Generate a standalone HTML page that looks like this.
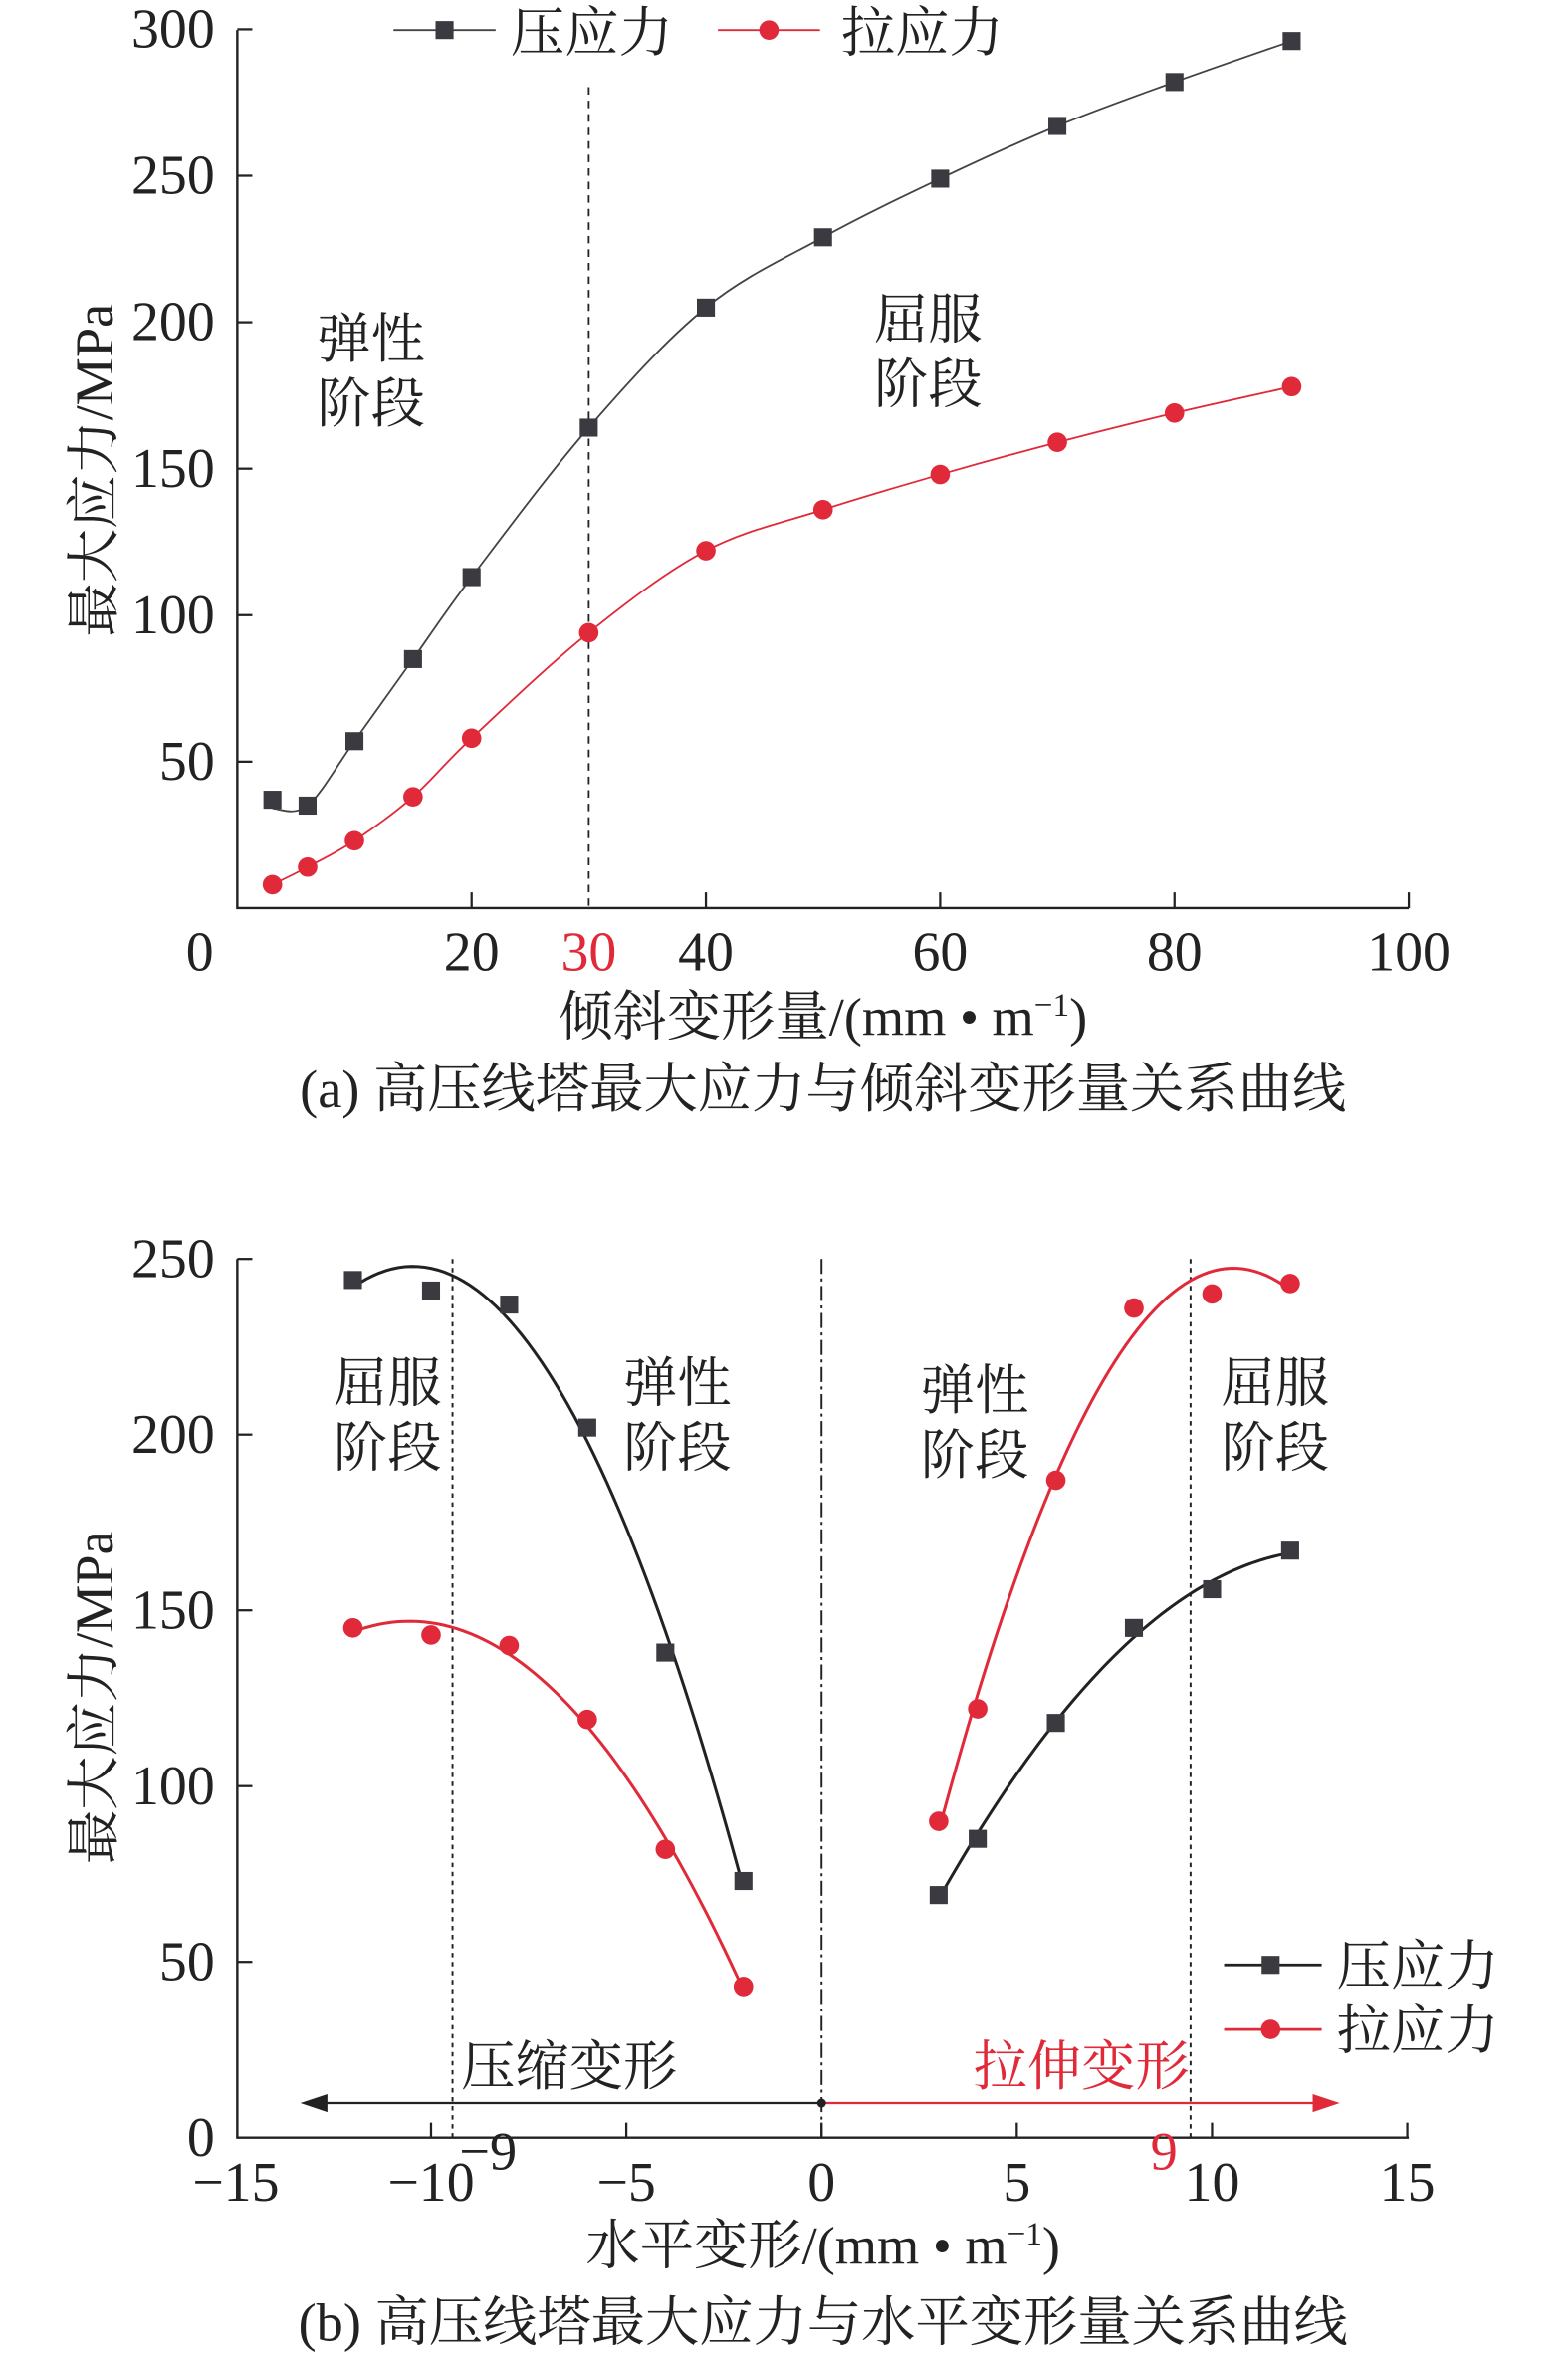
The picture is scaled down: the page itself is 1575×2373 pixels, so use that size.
<!DOCTYPE html>
<html><head><meta charset="utf-8">
<style>
html,body{margin:0;padding:0;background:#fff;}
svg{display:block;}
text{font-family:"Liberation Serif","Noto Serif CJK SC",serif;fill:#222;}
</style></head>
<body>
<svg id="root" width="1575" height="2373" viewBox="0 0 1044 1573" preserveAspectRatio="none" xmlns="http://www.w3.org/2000/svg">
<g id="chartA"></g>
<g id="chartB"></g>
</svg>
<script>
// ---- Chart (a) data ----
const aX = [3, 6, 10, 15, 20, 30, 40, 50, 60, 70, 80, 90];
const aCompress = [37, 35, 57, 85, 113, 164, 205, 229, 249, 267, 282, 296];
const aTension = [8, 14, 23, 38, 58, 94, 122, 136, 148, 159, 169, 178];
const aXTicks = [0, 20, 30, 40, 60, 80, 100];
const aYTicks = [50, 100, 150, 200, 250, 300];
// ---- Chart (b) data ----
const bXLeft = [-12, -10, -8, -6, -4, -2];
const bXRight = [3, 4, 6, 8, 10, 12];
const bCompressLeft = [244, 241, 237, 202, 138, 73];
const bCompressRight = [69, 85, 118, 145, 156, 167];
const bTensionLeft = [145, 143, 140, 119, 82, 43];
const bTensionRight = [90, 122, 187, 236, 240, 243];
const bXTicks = [-15, -10, -5, 0, 5, 10, 15];
const bYTicks = [0, 50, 100, 150, 200, 250];

const NS = "http://www.w3.org/2000/svg";
const RED = "#e02a3a", BLK = "#222", MK = "#3a3a40";
const FS = 36;
function mk(parent, tag, attrs, txt){
  const e = document.createElementNS(NS, tag);
  for (const k in attrs) e.setAttribute(k, attrs[k]);
  if (txt !== undefined) e.textContent = txt;
  parent.appendChild(e);
  return e;
}
function catmull(pts){
  let d = `M${pts[0][0]},${pts[0][1]}`;
  for (let i=0;i<pts.length-1;i++){
    const p0=pts[i-1]||pts[i], p1=pts[i], p2=pts[i+1], p3=pts[i+2]||p2;
    const c1=[p1[0]+(p2[0]-p0[0])/6, p1[1]+(p2[1]-p0[1])/6];
    const c2=[p2[0]-(p3[0]-p1[0])/6, p2[1]-(p3[1]-p1[1])/6];
    d += ` C${c1[0]},${c1[1]} ${c2[0]},${c2[1]} ${p2[0]},${p2[1]}`;
  }
  return d;
}
function cubicFit(xs, ys){
  const n=4, A=[...Array(n)].map(()=>Array(n+1).fill(0));
  for (let k=0;k<xs.length;k++){
    const p=[1,xs[k],xs[k]**2,xs[k]**3];
    for(let i=0;i<n;i++){for(let j=0;j<n;j++)A[i][j]+=p[i]*p[j];A[i][n]+=p[i]*ys[k];}
  }
  for(let i=0;i<n;i++){let m=i;for(let r=i+1;r<n;r++)if(Math.abs(A[r][i])>Math.abs(A[m][i]))m=r;[A[i],A[m]]=[A[m],A[i]];
    for(let r=0;r<n;r++){if(r===i)continue;const f=A[r][i]/A[i][i];for(let c=i;c<=n;c++)A[r][c]-=f*A[i][c];}}
  const c=A.map((r,i)=>r[n]/r[i]);
  return x=>c[0]+c[1]*x+c[2]*x*x+c[3]*x*x*x;
}
function square(g,cx,cy,name){
  const e=mk(g,'rect',{x:cx-6,y:cy-6,width:12,height:12,fill:MK});
  
  
}
function circle(g,cx,cy,name){
  const e=mk(g,'circle',{cx:cx,cy:cy,r:6.5,fill:RED});
  
  
}
function label(g,x,y,txt,name,opts){
  const e=mk(g,'text',Object.assign({x:x,y:y,'font-size':FS,'text-anchor':'middle'},opts||{}),txt);
  
  
  return e;
}

// ================= Chart A =================
(function(){
  const g=document.getElementById('chartA');
  const X=v=>158+v*7.8, Y=v=>604.5-v*1.95;
  mk(g,'path',{d:`M158,20 V604.5 H938`,stroke:BLK,'stroke-width':1.6,fill:'none'});
  aYTicks.forEach(t=>{
    mk(g,'line',{x1:158,x2:168,y1:Y(t),y2:Y(t),stroke:BLK,'stroke-width':1.5});
    label(g,143,Y(t)+12,String(t),'y-tick-label',{'text-anchor':'end','font-size':37});
  });
  aXTicks.forEach(t=>{
    if(t!==0 && t!==30) mk(g,'line',{x1:X(t),x2:X(t),y1:604.5,y2:594,stroke:BLK,'stroke-width':1.5});
    const e=label(g,t===0?133:X(t),646,String(t),'x-tick-label',{'font-size':37});
    if(t===30) e.setAttribute('style','fill:'+RED);
  });
  mk(g,'line',{x1:X(30),x2:X(30),y1:58,y2:604,stroke:BLK,'stroke-width':1.2,'stroke-dasharray':'5,4'});
  const pc=aX.map((x,i)=>[X(x),Y(aCompress[i])]);
  pc[0]=[X(3),Y(34)];
  const pt=aX.map((x,i)=>[X(x),Y(aTension[i])]);
  const l1=mk(g,'path',{d:catmull(pc),stroke:'#444',fill:'none','stroke-width':1.2});
  
  const l2=mk(g,'path',{d:catmull(pt),stroke:RED,fill:'none','stroke-width':1.2});
  
  aX.forEach((x,i)=>square(g,X(x),Y(aCompress[i]),'compress-point'));
  aX.forEach((x,i)=>circle(g,X(x),Y(aTension[i]),'tension-point'));
  mk(g,'line',{x1:262,x2:330,y1:20,y2:20,stroke:'#444','stroke-width':1.3});
  square(g,296,20,'legend-compress-marker');
  label(g,340,34,'压应力','legend-compress',{'text-anchor':'start'});
  mk(g,'line',{x1:478,x2:546,y1:20,y2:20,stroke:RED,'stroke-width':1.3});
  circle(g,512,20,'legend-tension-marker');
  label(g,560,34,'拉应力','legend-tension',{'text-anchor':'start'});
  label(g,211,238,'弹性','elastic-label',{'text-anchor':'start'});
  label(g,211,281,'阶段','elastic-label-2',{'text-anchor':'start'});
  label(g,582,225,'屈服','yield-label',{'text-anchor':'start'});
  label(g,582,268,'阶段','yield-label-2',{'text-anchor':'start'});
  label(g,0,0,'最大应力/MPa','y-axis-title',{transform:'translate(75,313) rotate(-90)'});
  const xt=label(g,548,689,'','x-axis-title');
  xt.innerHTML='倾斜变形量/(mm • m<tspan font-size="22" dy="-13">−1</tspan><tspan dy="13">)</tspan>';
  label(g,548,737,'(a) 高压线塔最大应力与倾斜变形量关系曲线','caption-a');
})();

// ================= Chart B =================
(function(){
  const g=document.getElementById('chartB');
  const X=v=>547+v*26, Y=v=>1423-v*2.34;
  mk(g,'path',{d:`M158,838 V1423 H938`,stroke:BLK,'stroke-width':1.6,fill:'none'});
  bYTicks.forEach(t=>{
    if(t>0) mk(g,'line',{x1:158,x2:168,y1:Y(t),y2:Y(t),stroke:BLK,'stroke-width':1.5});
    label(g,143,Y(t)+12,String(t),'y-tick-label',{'text-anchor':'end','font-size':37});
  });
  bXTicks.forEach(t=>{
    if(t!==-15) mk(g,'line',{x1:X(t),x2:X(t),y1:1423,y2:1413,stroke:BLK,'stroke-width':1.5});
    label(g,X(t),1465,(t<0?'−':'')+Math.abs(t),'x-tick-label',{'font-size':37});
  });
  mk(g,'line',{x1:X(-9.45),x2:X(-9.45),y1:838,y2:1423,stroke:BLK,'stroke-width':1.3,'stroke-dasharray':'3,3'});
  mk(g,'line',{x1:X(9.45),x2:X(9.45),y1:838,y2:1423,stroke:BLK,'stroke-width':1.3,'stroke-dasharray':'3,3'});
  mk(g,'line',{x1:X(0),x2:X(0),y1:838,y2:1423,stroke:BLK,'stroke-width':1.3,'stroke-dasharray':'10,3,2,3'});
  function fitLine(xs,ys,col,name){
    const f=cubicFit(xs,ys); let d='';
    for(let i=0;i<=60;i++){const x=xs[0]+(xs[xs.length-1]-xs[0])*i/60;d+=(i?'L':'M')+X(x)+','+Y(f(x));}
    const e=mk(g,'path',{d:d,stroke:col,fill:'none','stroke-width':2});
    
  }
  fitLine(bXLeft,bCompressLeft,BLK,'compress-line-left');
  fitLine(bXRight,bCompressRight,BLK,'compress-line-right');
  fitLine(bXLeft,bTensionLeft,RED,'tension-line-left');
  fitLine(bXRight,bTensionRight,RED,'tension-line-right');
  bXLeft.forEach((x,i)=>square(g,X(x),Y(bCompressLeft[i]),'compress-point'));
  bXRight.forEach((x,i)=>square(g,X(x),Y(bCompressRight[i]),'compress-point'));
  bXLeft.forEach((x,i)=>circle(g,X(x),Y(bTensionLeft[i]),'tension-point'));
  bXRight.forEach((x,i)=>circle(g,X(x),Y(bTensionRight[i]),'tension-point'));
  mk(g,'line',{x1:547,x2:212,y1:1400,y2:1400,stroke:BLK,'stroke-width':1.5});
  mk(g,'path',{d:'M200,1400 L218,1394 L218,1406 Z',fill:BLK});
  mk(g,'line',{x1:547,x2:880,y1:1400,y2:1400,stroke:RED,'stroke-width':1.5});
  mk(g,'path',{d:'M892,1400 L874,1394 L874,1406 Z',fill:RED});
  mk(g,'circle',{cx:547,cy:1400,r:3,fill:BLK});
  label(g,307,1388,'压缩变形','compression-label',{'text-anchor':'start'});
  label(g,648,1388,'拉伸变形','tension-deform-label',{'text-anchor':'start',style:'fill:'+RED});
  label(g,325,1444,'−9','minus-nine-label');
  label(g,775,1444,'9','nine-label',{style:'fill:'+RED});
  label(g,222,933,'屈服','yield-left',{'text-anchor':'start'});
  label(g,222,976,'阶段','yield-left-2',{'text-anchor':'start'});
  label(g,415,933,'弹性','elastic-left',{'text-anchor':'start'});
  label(g,415,976,'阶段','elastic-left-2',{'text-anchor':'start'});
  label(g,613,938,'弹性','elastic-right',{'text-anchor':'start'});
  label(g,613,981,'阶段','elastic-right-2',{'text-anchor':'start'});
  label(g,813,933,'屈服','yield-right',{'text-anchor':'start'});
  label(g,813,976,'阶段','yield-right-2',{'text-anchor':'start'});
  mk(g,'line',{x1:815,x2:880,y1:1308,y2:1308,stroke:BLK,'stroke-width':1.8});
  square(g,846,1308,'legend-compress-marker');
  label(g,890,1321,'压应力','legend-compress',{'text-anchor':'start'});
  mk(g,'line',{x1:815,x2:880,y1:1351,y2:1351,stroke:RED,'stroke-width':1.8});
  circle(g,846,1351,'legend-tension-marker');
  label(g,890,1364,'拉应力','legend-tension',{'text-anchor':'start'});
  label(g,0,0,'最大应力/MPa','y-axis-title',{transform:'translate(75,1130) rotate(-90)'});
  const xt=label(g,548,1507,'','x-axis-title');
  xt.innerHTML='水平变形/(mm • m<tspan font-size="22" dy="-13">−1</tspan><tspan dy="13">)</tspan>';
  label(g,548,1558,'(b) 高压线塔最大应力与水平变形量关系曲线','caption-b');
})();
</script>
</body></html>
